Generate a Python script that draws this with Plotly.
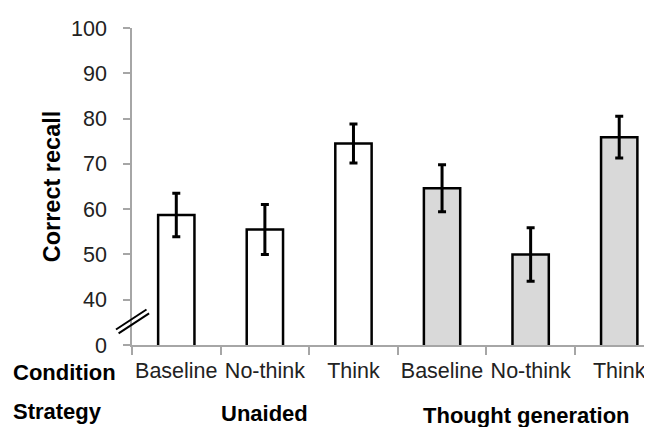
import plotly.graph_objects as go

conditions = ["Baseline", "No-think", "Think", "Baseline", "No-think", "Think"]
strategies = ["Unaided", "Thought generation"]
recall = [58.7, 55.5, 74.5, 64.6, 50.0, 75.9]
errors = [4.8, 5.5, 4.3, 5.2, 5.9, 4.6]
fill_colors = ["#ffffff", "#ffffff", "#ffffff", "#d9d9d9", "#d9d9d9", "#d9d9d9"]
ytick_vals = [30, 40, 50, 60, 70, 80, 90, 100]
ytick_text = ["0", "40", "50", "60", "70", "80", "90", "100"]

FONT = "Liberation Sans, Arial, sans-serif"
xpos = list(range(len(conditions)))

# the page body has an 8px margin, so the figure is laid out 8px up/left
L, T, R, B = 124, 20, 8, 90
PW = 652 - L - R
PH = 427 - T - B

fig = go.Figure()
fig.add_trace(go.Bar(
    x=xpos, y=recall, width=0.41,
    marker=dict(color=fill_colors, line=dict(color="black", width=2.5)),
    error_y=dict(type="data", array=errors, color="black", thickness=3, width=4),
    showlegend=False,
))

axis_gray = "#a6a6a6"
fig.update_layout(
    width=652, height=427,
    margin=dict(l=L, r=R, t=T, b=B),
    paper_bgcolor="white", plot_bgcolor="white",
    font=dict(family=FONT, size=21.5, color="#222222"),
    xaxis=dict(
        range=[-0.5, 5.37], tickvals=xpos, ticktext=conditions,
        showgrid=False, zeroline=False, showline=True, linecolor=axis_gray, linewidth=1.5,
        ticks="", tickfont=dict(size=21.5, color="#222222"),
        minor=dict(tick0=-0.5, dtick=1, ticks="outside", ticklen=8, tickcolor=axis_gray, tickwidth=1.5),
        ticklabelstandoff=5,
    ),
    yaxis=dict(
        range=[30, 100], tickvals=ytick_vals, ticktext=ytick_text,
        showgrid=False, zeroline=False, showline=True, linecolor=axis_gray, linewidth=1.5,
        ticks="outside", ticklen=7, tickcolor=axis_gray, tickwidth=1.5,
        tickfont=dict(size=21.5, color="#222222"),
        ticklabelstandoff=12,
        title=dict(text="<b>Correct recall</b>", font=dict(size=23.5, color="black"), standoff=4),
    ),
)

# axis break marks (page coordinates converted to paper fractions)
def px(x):
    return (x - 8 - L) / PW

def py(y):
    return (427 - B - (y - 8)) / PH

for d in (0, 1):
    ox, oy = 2.6 * d, 3.8 * d
    fig.add_shape(type="line", xref="paper", yref="paper",
                  x0=px(116 + ox), y0=py(329.5 + oy),
                  x1=px(146.5 + ox), y1=py(309.5 + oy),
                  line=dict(color="black", width=2))

ann_font = dict(family=FONT, size=22, color="black")
fig.add_annotation(text="<b>Condition</b>", xref="paper", yref="paper", x=0, y=0,
                   xanchor="left", yanchor="middle", xshift=-121, yshift=-27,
                   showarrow=False, font=ann_font)
fig.add_annotation(text="<b>Strategy</b>", xref="paper", yref="paper", x=0, y=0,
                   xanchor="left", yanchor="middle", xshift=-121, yshift=-66,
                   showarrow=False, font=ann_font)
fig.add_annotation(text="<b>" + strategies[0] + "</b>", xref="x", yref="paper", x=1, y=0,
                   xanchor="center", yanchor="middle", yshift=-68,
                   showarrow=False, font=ann_font)
fig.add_annotation(text="<b>" + strategies[1] + "</b>", xref="x", yref="paper", x=3.95, y=0,
                   xanchor="center", yanchor="middle", yshift=-70,
                   showarrow=False, font=ann_font)

fig.write_html("out.html")
